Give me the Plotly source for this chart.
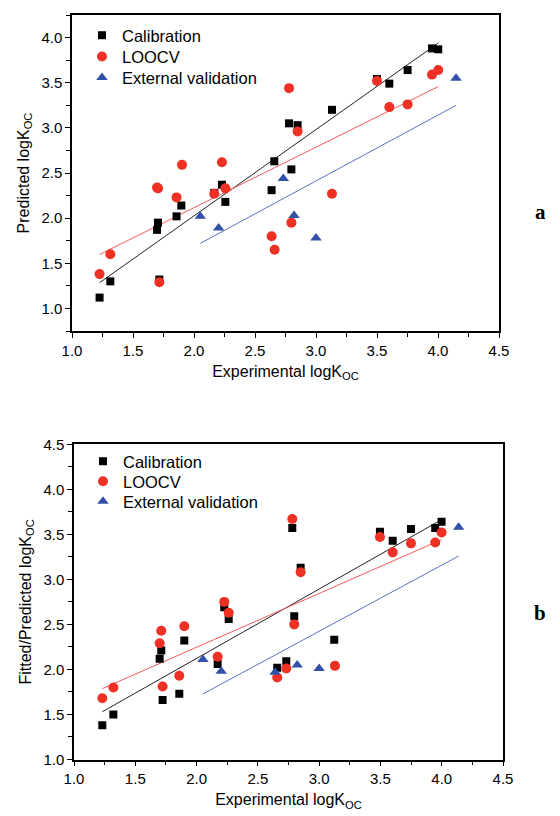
import numpy as np
import plotly.graph_objects as go

# ---- Panel a: Predicted logKOC ----
a_cal_x = [1.226, 1.314, 1.697, 1.705, 1.716, 1.857, 1.896, 2.166, 2.229, 2.257, 2.636,
           2.658, 2.779, 2.798, 2.849, 3.131, 3.500, 3.601, 3.751, 3.951, 4.002]
a_cal_y = [1.12, 1.30, 1.87, 1.95, 1.32, 2.02, 2.14, 2.28, 2.37, 2.18, 2.31,
           2.63, 3.05, 2.54, 3.03, 3.20, 3.54, 3.49, 3.64, 3.88, 3.87]
a_loo_x = [1.226, 1.314, 1.697, 1.705, 1.716, 1.857, 1.902, 2.166, 2.229, 2.257, 2.636,
           2.661, 2.779, 2.798, 2.849, 3.131, 3.500, 3.601, 3.751, 3.951, 4.002]
a_loo_y = [1.38, 1.60, 2.34, 2.33, 1.29, 2.23, 2.59, 2.27, 2.62, 2.33, 1.80,
           1.65, 3.44, 1.95, 2.96, 2.27, 3.52, 3.23, 3.26, 3.59, 3.64]
a_ext_x = [2.052, 2.202, 2.732, 2.820, 3.000, 4.148]
a_ext_y = [2.02, 1.89, 2.44, 2.03, 1.78, 3.55]

# ---- Panel b: Fitted/Predicted logKOC ----
b_cal_x = [1.231, 1.321, 1.699, 1.712, 1.723, 1.859, 1.900, 2.172, 2.226, 2.262, 2.658,
           2.732, 2.781, 2.797, 2.849, 3.123, 3.496, 3.600, 3.749, 3.947, 3.999]
b_cal_y = [1.38, 1.50, 2.12, 2.21, 1.66, 1.73, 2.32, 2.06, 2.69, 2.56, 2.02,
           2.09, 3.57, 2.59, 3.13, 2.33, 3.53, 3.43, 3.56, 3.57, 3.64]
b_loo_x = [1.231, 1.321, 1.699, 1.712, 1.723, 1.859, 1.900, 2.172, 2.226, 2.262, 2.658,
           2.732, 2.781, 2.797, 2.849, 3.129, 3.496, 3.600, 3.749, 3.947, 3.999]
b_loo_y = [1.68, 1.80, 2.29, 2.43, 1.81, 1.93, 2.48, 2.14, 2.75, 2.63, 1.91,
           2.01, 3.67, 2.50, 3.08, 2.04, 3.47, 3.30, 3.40, 3.41, 3.52]
b_ext_x = [2.052, 2.201, 2.640, 2.821, 3.000, 4.138]
b_ext_y = [2.11, 1.98, 1.97, 2.05, 2.01, 3.58]

legend_names = ["Calibration", "LOOCV", "External validation"]
colors = ["#000000", "#ee3124", "#3150a8"]
line_colors = ["#222222", "#f25a5a", "#5a6fc4"]
symbols = ["square", "circle", "triangle-up"]
sizes = [8, 10, 10]

fig = go.Figure()

# each legend entry gets its own legend box so the row spacing can match the original
panels = [
    ("x", "y", [(a_cal_x, a_cal_y), (a_loo_x, a_loo_y), (a_ext_x, a_ext_y)],
     ["legend", "legend2", "legend3"], 82, [18, 39.3, 60.3]),
    ("x2", "y2", [(b_cal_x, b_cal_y), (b_loo_x, b_loo_y), (b_ext_x, b_ext_y)],
     ["legend4", "legend5", "legend6"], 83, [444, 464, 484]),
]

legend_layout = {}
for xa, ya, series, legs, lx_px, ly_px in panels:
    for i, (xs, ys) in enumerate(series):
        xs_arr = np.array(xs)
        ys_arr = np.array(ys)
        k, b = np.polyfit(xs_arr, ys_arr, 1)
        lx = np.array([xs_arr.min(), xs_arr.max()])
        fig.add_trace(go.Scatter(x=lx, y=k * lx + b, mode="lines",
                                 line=dict(color=line_colors[i], width=1),
                                 xaxis=xa, yaxis=ya, showlegend=False, hoverinfo="skip"))
    for i, (xs, ys) in enumerate(series):
        fig.add_trace(go.Scatter(x=xs, y=ys, mode="markers", name=legend_names[i],
                                 marker=dict(symbol=symbols[i], size=sizes[i], color=colors[i],
                                             line=dict(width=0)),
                                 xaxis=xa, yaxis=ya, legend=legs[i], showlegend=True))
        legend_layout[legs[i]] = dict(x=lx_px / 560, y=1 - ly_px[i] / 816,
                                      xanchor="left", yanchor="top",
                                      font=dict(size=16.5), bgcolor="rgba(0,0,0,0)",
                                      borderwidth=0, itemwidth=30)

font_main = "Liberation Sans, Arial, sans-serif"
axis_common = dict(showline=True, linecolor="black", linewidth=1.5, mirror=True,
                   ticks="outside", ticklen=5, tickwidth=1.2, tickcolor="black",
                   showgrid=False, zeroline=False, dtick=0.5, tick0=1.0, tickformat=".1f",
                   automargin=False,
                   tickfont=dict(family=font_main, size=15, color="black"),
                   minor=dict(ticks="outside", ticklen=4, tickwidth=1.2, tickcolor="black", dtick=0.25))

fig.update_layout(
    width=560, height=816,
    margin=dict(l=0, r=0, t=0, b=0),
    paper_bgcolor="white", plot_bgcolor="white",
    font=dict(family=font_main, color="black"),
    xaxis=dict(axis_common, domain=[72 / 560, 499 / 560], range=[1.0, 4.5], anchor="y",
               title=dict(text="Experimental logK<sub>OC</sub>", font=dict(size=16), standoff=8)),
    yaxis=dict(axis_common, domain=[1 - 331 / 816, 1 - 15 / 816], range=[0.75, 4.25], anchor="x",
               title=dict(text="Predicted logK<sub>OC</sub>", font=dict(size=16), standoff=8)),
    xaxis2=dict(axis_common, domain=[74 / 560, 503 / 560], range=[1.0, 4.5], anchor="y2",
                title=dict(text="Experimental logK<sub>OC</sub>", font=dict(size=16), standoff=8)),
    yaxis2=dict(axis_common, domain=[1 - 759.5 / 816, 1 - 444.3 / 816], range=[1.0, 4.5], anchor="x2",
                title=dict(text="Fitted/Predicted logK<sub>OC</sub>", font=dict(size=16), standoff=8)),
    annotations=[
        dict(text="<b>a</b>", x=548 / 560, y=1 - 198 / 816, xref="paper", yref="paper",
             showarrow=False, font=dict(family="Liberation Serif, Times New Roman, serif", size=21)),
        dict(text="<b>b</b>", x=548 / 560, y=1 - 627 / 816, xref="paper", yref="paper",
             showarrow=False, font=dict(family="Liberation Serif, Times New Roman, serif", size=21)),
    ],
    **legend_layout,
)

fig.write_html("out.html", config={"displayModeBar": False},
               post_script="document.body.style.margin='0';")
